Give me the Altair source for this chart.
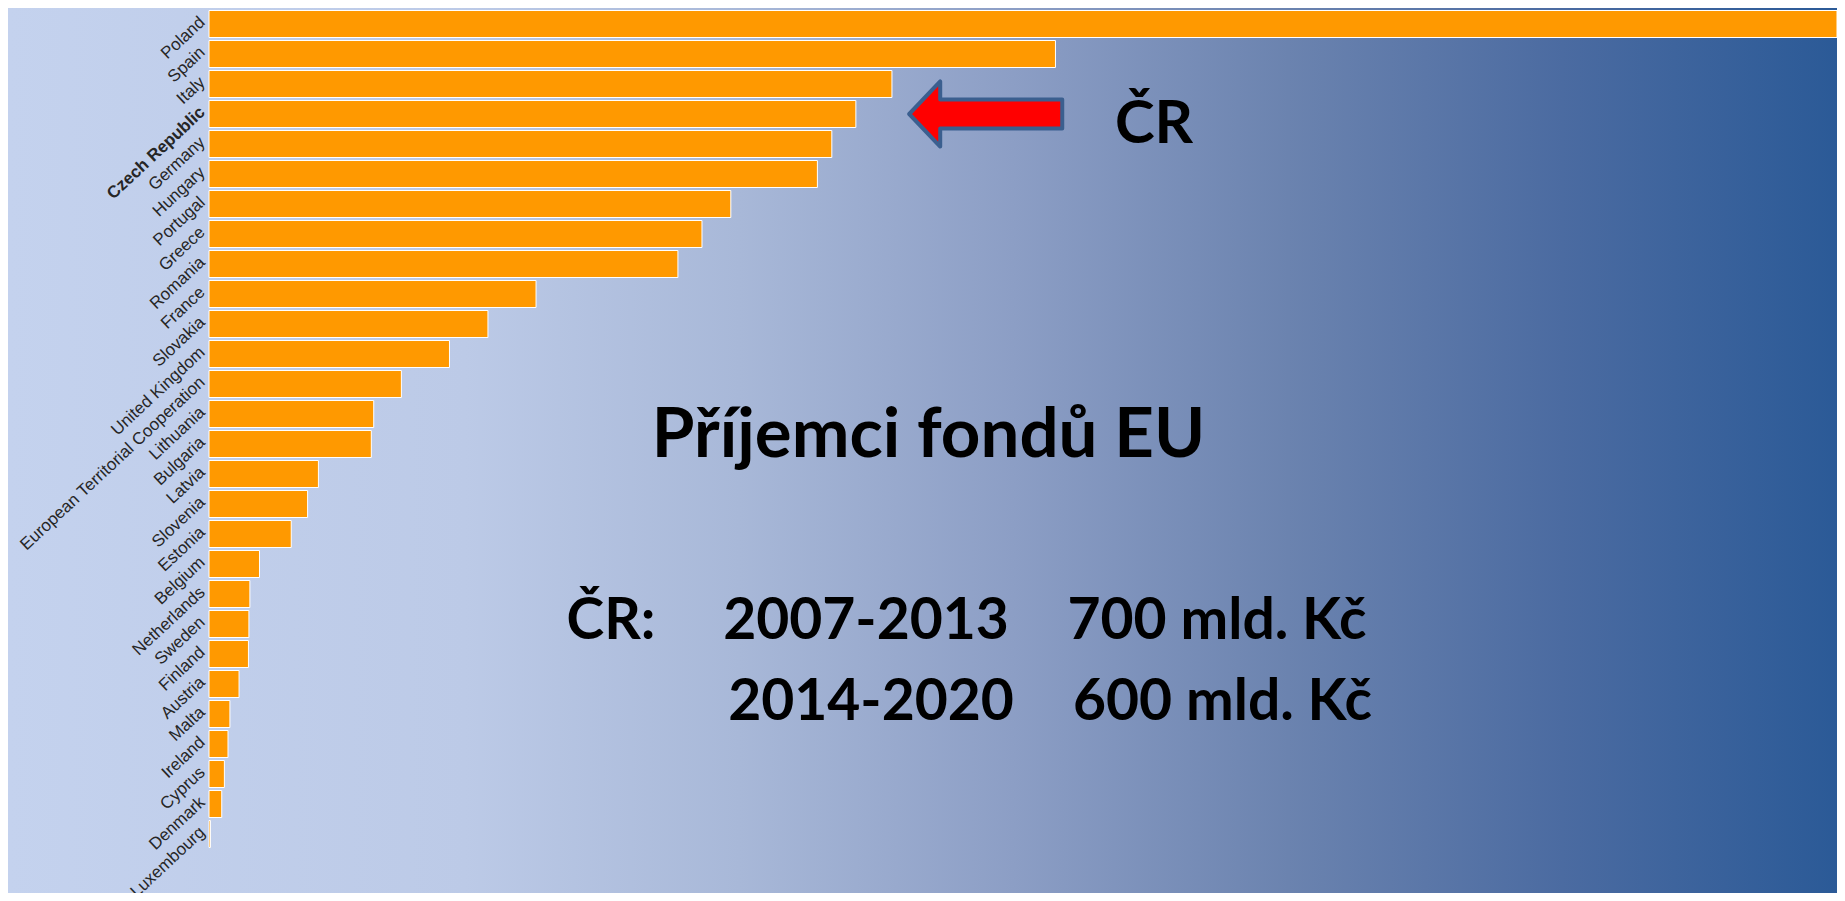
import altair as alt
import pandas as pd

# ---- data (bn EUR) ----
countries = [
    "Poland", "Spain", "Italy", "Czech Republic", "Germany", "Hungary",
    "Portugal", "Greece", "Romania", "France", "Slovakia", "United Kingdom",
    "European Territorial Cooperation", "Lithuania", "Bulgaria", "Latvia",
    "Slovenia", "Estonia", "Belgium", "Netherlands", "Sweden", "Finland",
    "Austria", "Malta", "Ireland", "Cyprus", "Denmark", "Luxembourg",
]
allocations = [
    67.7, 35.2, 28.4, 26.9, 25.9, 25.3,
    21.7, 20.5, 19.5, 13.6, 11.6, 10.0,
    8.0, 6.85, 6.75, 4.55,
    4.1, 3.42, 2.1, 1.70, 1.66, 1.64,
    1.25, 0.87, 0.79, 0.64, 0.53, 0.06,
]
highlight = "Czech Republic"
arrow_value = [32.3]          # arrow centre, in the x-axis units, on the highlighted row
cr_label_value = [39.3]       # "ČR" label centre, in x-axis units
title_text = "Příjemci fondů EU"
line1 = ["ČR:", "2007-2013", "700 mld. Kč"]
line2 = ["2014-2020", "600 mld. Kč"]

# ---- layout ----
W, H = 1628, 840
PAD = {"left": 201, "top": 1, "right": 0, "bottom": 44}
TEXT_FONT = "Lato"

df = pd.DataFrame({"country": countries, "value": allocations})

xscale = alt.Scale(domain=[0, max(allocations)], nice=False, zero=True)
yscale = alt.Scale(domain=countries, paddingInner=0.1, paddingOuter=0.05)

grad = alt.LinearGradient(
    gradient="linear", x1=0, x2=1, y1=0, y2=0,
    stops=[
        alt.GradientStop(offset=0.0, color="#c4d2ee"),
        alt.GradientStop(offset=0.25, color="#bccae7"),
        alt.GradientStop(offset=0.40, color="#a8b8d8"),
        alt.GradientStop(offset=0.55, color="#8c9ec5"),
        alt.GradientStop(offset=0.70, color="#6b83af"),
        alt.GradientStop(offset=0.85, color="#4b6ba1"),
        alt.GradientStop(offset=1.0, color="#2b5a97"),
    ],
)

bg = alt.Chart(pd.DataFrame({"k": [0]})).mark_rect(fill=grad).encode(
    x=alt.value(-PAD["left"]), x2=alt.value(W + PAD["right"]),
    y=alt.value(-PAD["top"]), y2=alt.value(H + PAD["bottom"]),
)

bars = alt.Chart(df).mark_bar(color="#FF9900", stroke="white", strokeWidth=1).encode(
    y=alt.Y(
        "country:N", sort=countries, scale=yscale,
        axis=alt.Axis(
            title=None, labelAngle=-43, labelFontSize=17, labelFont="Liberation Sans",
            labelColor="#262626", ticks=False, domain=False, grid=False,
            labelPadding=7, labelLimit=500, labelOffset=-4, zindex=1,
            labelFontWeight={"condition": {"test": f"datum.value === '{highlight}'", "value": "bold"}, "value": "normal"},
        ),
    ),
    x=alt.X("value:Q", scale=xscale, axis=None),
)

arrow_path = "M -1 0 L -0.595 -0.425 L -0.595 -0.19 L 1 -0.19 L 1 0.19 L -0.595 0.19 L -0.595 0.425 Z"
arrow = alt.Chart(pd.DataFrame({"country": [highlight], "value": arrow_value})).mark_point(
    shape=arrow_path, size=153 * 153, filled=True, fill="#FF0000", fillOpacity=1,
    stroke="#3b5f8f", strokeWidth=4, strokeOpacity=1, strokeJoin="round", opacity=1,
).encode(
    y=alt.Y("country:N", scale=yscale, sort=countries),
    x=alt.X("value:Q", scale=xscale),
)

cr_text = alt.Chart(pd.DataFrame({"country": [highlight], "value": cr_label_value, "t": ["ČR"]})).mark_text(
    font=TEXT_FONT, fontWeight="bold", fontSize=60, color="black", align="center",
    baseline="alphabetic", dy=29,
).encode(
    y=alt.Y("country:N", scale=yscale, sort=countries),
    x=alt.X("value:Q", scale=xscale),
    text="t:N",
)


def label(text, x, y, size):
    return alt.Chart(pd.DataFrame({"t": [text]})).mark_text(
        font=TEXT_FONT, fontWeight="bold", fontSize=size, color="black",
        align="center", baseline="alphabetic",
    ).encode(text="t:N", x=alt.value(x), y=alt.value(y))


texts = [
    label(title_text, 719.5, 447.5, 69),
    label(line1[0], 402, 630, 57),
    label(line1[1], 657, 630, 57),
    label(line1[2], 1008, 630, 57),
    label(line2[0], 662, 711, 57),
    label(line2[1], 1013.5, 711, 57),
]

chart = alt.layer(bg, bars, arrow, cr_text, *texts).properties(
    width=W, height=H, padding=PAD, autosize=alt.AutoSizeParams(type="none"),
    background="#c4d2ee",
).configure_view(strokeWidth=0)

chart.save("out.html", embed_options={"renderer": "svg", "actions": False})
